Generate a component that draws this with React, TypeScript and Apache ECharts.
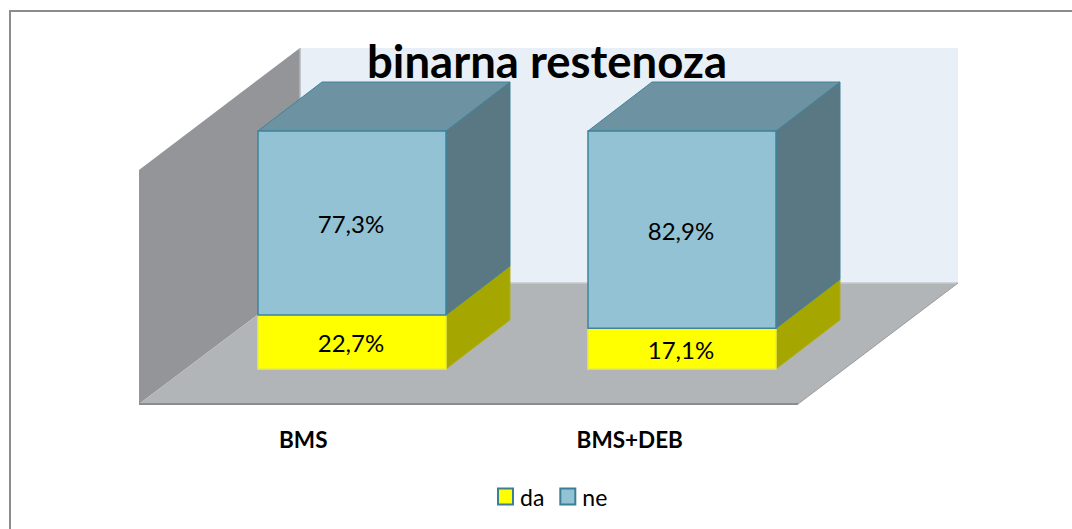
import React, { useEffect, useRef } from "react";
import * as echarts from "echarts";

const categories = ["BMS", "BMS+DEB"];
const daValues = [22.7, 17.1];
const neValues = [77.3, 82.9];
const daLabels = ["22,7%", "17,1%"];
const neLabels = ["77,3%", "82,9%"];

const FONT = "Lato";
const DX = 64;
const DY = -49;

function prism(colors: { front: string; top: string; side: string; stroke: string; sideStroke: string }, values: number[], bases: number[], labels: string[]) {
  return (params: any, api: any) => {
    const i = api.value(0);
    const w = api.size([1, 0])[0] * 0.57;
    const base = api.coord([i, bases[i]]);
    const topP = api.coord([i, bases[i] + values[i]]);
    const x0 = Math.round(base[0] - w / 2);
    const x1 = Math.round(base[0] + w / 2);
    const y0 = base[1];
    const y1 = topP[1];
    const children: any[] = [
      {
        type: "polygon",
        shape: { points: [[x1, y1], [x1 + DX, y1 + DY], [x1 + DX, y0 + DY], [x1, y0]] },
        style: { fill: colors.side, stroke: colors.sideStroke, lineWidth: 1 },
      },
      {
        type: "polygon",
        shape: { points: [[x0, y1], [x0 + DX, y1 + DY], [x1 + DX, y1 + DY], [x1, y1]] },
        style: { fill: colors.top, stroke: colors.sideStroke, lineWidth: 1 },
      },
      {
        type: "rect",
        shape: { x: x0, y: y1, width: x1 - x0, height: y0 - y1 },
        style: { fill: colors.front, stroke: colors.stroke, lineWidth: 1.5 },
      },
      {
        type: "text",
        x: (x0 + x1) / 2 - 1,
        y: (y0 + y1) / 2 + 1,
        style: { text: labels[i], fill: "#000", font: `24px ${FONT}`, align: "center", verticalAlign: "middle" },
      },
    ];
    return { type: "group", children };
  };
}

export default function App() {
  const ref = useRef<HTMLDivElement>(null);
  useEffect(() => {
    document.body.style.margin = "0";
    const chart = echarts.init(ref.current!, undefined, { renderer: "svg" });
    chart.setOption({
      animation: false,
      backgroundColor: "#ffffff",
      textStyle: { fontFamily: FONT },
      title: {
        text: "binarna restenoza",
        left: 542,
        top: 32,
        textAlign: "center",
        textStyle: { fontFamily: FONT, fontWeight: "bold", fontSize: 45.5, color: "#000" },
      },
      graphic: [
        { type: "polyline", z: -5, shape: { points: [[10, 529], [10, 11], [1072, 11]] }, style: { fill: "none", stroke: "#8c8c8c", lineWidth: 2 } },
        { type: "rect", z: -4, shape: { x: 300, y: 48, width: 658, height: 235 }, style: { fill: "#E8EFF6" } },
        { type: "polygon", z: -4, shape: { points: [[139, 170], [300, 48], [300, 283], [139, 404]] }, style: { fill: "#939598" } },
        { type: "polygon", z: -3, shape: { points: [[139, 404], [300, 283], [958, 283], [798, 404]] }, style: { fill: "#B1B5B8" } },
        { type: "line", z: -2, shape: { x1: 300, y1: 48, x2: 300, y2: 113 }, style: { stroke: "#b5b7ba", lineWidth: 1.5 } },
        { type: "line", z: -2, shape: { x1: 300, y1: 283, x2: 958, y2: 283 }, style: { stroke: "#c6cacc", lineWidth: 1.5 } },
        { type: "line", z: -2, shape: { x1: 798, y1: 404, x2: 958, y2: 283 }, style: { stroke: "#9a9c9e", lineWidth: 1 } },
        { type: "line", z: -2, shape: { x1: 139, y1: 404, x2: 798, y2: 404 }, style: { stroke: "#8c8c8c", lineWidth: 2 } },
      ],
      legend: {
        left: 497,
        top: 485,
        padding: 0,
        itemWidth: 15,
        itemHeight: 16,
        itemGap: 15,
        icon: "rect",
        textStyle: { fontFamily: FONT, fontSize: 23, color: "#000", padding: [0, 0, 0, 2] },
        data: [
          { name: "da", itemStyle: { color: "#FFFF00", borderColor: "#3A7F94", borderWidth: 2 } },
          { name: "ne", itemStyle: { color: "#92C2D4", borderColor: "#3A7F94", borderWidth: 2 } },
        ],
      },
      grid: [
        { left: 187.5, width: 659, top: 131, height: 238 },
        { left: 140, width: 653, top: 170, height: 234 },
      ],
      xAxis: [
        { gridIndex: 0, type: "category", data: categories, show: false },
        {
          gridIndex: 1,
          type: "category",
          data: categories,
          axisLine: { show: false },
          axisTick: { show: false },
          axisLabel: { margin: 24, color: "#000", fontFamily: FONT, fontWeight: "bold", fontSize: 22.5 },
        },
      ],
      yAxis: [
        { gridIndex: 0, type: "value", min: 0, max: 100, show: false },
        { gridIndex: 1, type: "value", min: 0, max: 100, show: false },
      ],
      series: [
        {
          type: "custom",
          name: "da",
          xAxisIndex: 0,
          yAxisIndex: 0,
          data: categories.map((_, i) => [i, daValues[i]]),
          itemStyle: { color: "#FFFF00" },
          renderItem: prism(
            { front: "#FFFF00", top: "#A6A600", side: "#A6A600", stroke: "#EAEA45", sideStroke: "#B0B020" },
            daValues,
            categories.map(() => 0),
            daLabels
          ),
        },
        {
          type: "custom",
          name: "ne",
          xAxisIndex: 0,
          yAxisIndex: 0,
          data: categories.map((_, i) => [i, neValues[i]]),
          itemStyle: { color: "#92C2D4" },
          renderItem: prism(
            { front: "#92C2D4", top: "#6D92A1", side: "#5A7883", stroke: "#3F849A", sideStroke: "#3F849A" },
            neValues,
            daValues,
            neLabels
          ),
        },
      ],
    });
    return () => chart.dispose();
  }, []);
  return <div ref={ref} style={{ position: "absolute", left: 0, top: 0, width: 1072, height: 529 }} />;
}
